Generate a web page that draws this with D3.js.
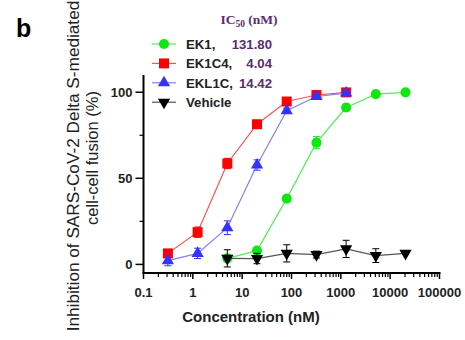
<!DOCTYPE html>
<html>
<head>
<meta charset="utf-8">
<script src="https://cdn.jsdelivr.net/npm/d3@7"></script>
<style>
  body { margin: 0; background: #fff; }
</style>
</head>
<body>
<div id='chart'></div>

<script>
  // concentrations (nM), 4-fold dilutions
  var conc = [0.3125, 1.25, 5, 20, 80, 320, 1280, 5120, 20480]

  var ek1 = [null, null, 3.5, 8.0, 38.2, 70.7, 91.1, 98.9, 99.9]
  var ek1Err = [null, null, 2, 1.5, 1.5, 3.5, 2, 1, 0.5]
  var ek1c4 = [6.4, 18.7, 58.6, 81.4, 94.6, 98.4, 99.9, null, null]
  var ek1c4Err = [2, 3, 3, 1.5, 1.5, 1, 1, null, null]
  var ekl1c = [2.2, 6.4, 21.3, 57.7, 89.2, 97.5, 99.5, null, null]
  var ekl1cErr = [3, 3, 4, 3, 1.5, 1, 1, null, null]
  var vehicle = [null, null, 3.5, 3.4, 6.4, 5.7, 9.0, 5.1, 6.4]
  var vehicleErr = [null, null, 5, 3, 5, 2, 5, 4, 0.5]

  var names = ['EK1,', 'EK1C4,', 'EKL1C,', 'Vehicle']
  var ic50 = ['131.80', '4.04', '14.42', '']
  var xTicks = [0.1, 1, 10, 100, 1000, 10000, 100000]
  var yTicks = [0, 50, 100]

  var sans = 'Arial, "Liberation Sans", sans-serif'
  var serif = '"Times New Roman", "Liberation Serif", serif'
  var purple = '#5a2d70'

  var series = [
    { name: names[0], ic: ic50[0], vals: ek1, err: ek1Err, color: '#11e611', line: '#55ee55', shape: 'circle' },
    { name: names[1], ic: ic50[1], vals: ek1c4, err: ek1c4Err, color: '#ff0000', line: '#ff5050', shape: 'square' },
    { name: names[2], ic: ic50[2], vals: ekl1c, err: ekl1cErr, color: '#3333ff', line: '#8080ff', shape: 'triangle' },
    { name: names[3], ic: ic50[3], vals: vehicle, err: vehicleErr, color: '#000000', line: '#555555', shape: 'down' }
  ]

  var svg = d3.select('#chart')
              .append('svg')
              .attr('width', 465)
              .attr('height', 340)
              .style('font-family', sans)

  var x = d3.scaleLog()
            .domain([0.1, 100000])
            .range([143.5, 439.5])

  var y = d3.scaleLinear()
            .domain([-5, 110])
            .range([273, 75])

  function symbolFor(shape) {
    if (shape == 'circle') return d3.symbol().type(d3.symbolCircle).size(80)
    if (shape == 'square') return d3.symbol().type(d3.symbolSquare).size(100)
    return d3.symbol().type(d3.symbolTriangle).size(65)
  }

  // axes
  var minor = []
  for (var e = -1; e < 5; e++) {
    for (var m = 2; m < 10; m++) minor.push(m * Math.pow(10, e))
  }

  var xAxis = svg.append('g').attr('transform', 'translate(0,' + y(-5) + ')')
  xAxis.append('line')
       .attr('x1', x(0.1) - 1).attr('x2', x(100000) + 1)
       .attr('stroke', '#000').attr('stroke-width', 2)
  xAxis.selectAll('.minor')
       .data(minor)
       .enter()
       .append('line')
       .attr('x1', function(d) { return x(d) })
       .attr('x2', function(d) { return x(d) })
       .attr('y1', 0).attr('y2', 4)
       .attr('stroke', '#000').attr('stroke-width', 1.2)
  xAxis.selectAll('.major')
       .data(xTicks)
       .enter()
       .append('line')
       .attr('x1', function(d) { return x(d) })
       .attr('x2', function(d) { return x(d) })
       .attr('y1', 0).attr('y2', 6)
       .attr('stroke', '#000').attr('stroke-width', 1.5)
  xAxis.selectAll('text')
       .data(xTicks)
       .enter()
       .append('text')
       .attr('x', function(d) { return x(d) })
       .attr('y', 24)
       .attr('text-anchor', 'middle')
       .attr('font-size', 13)
       .attr('font-weight', 'bold')
       .attr('fill', '#222')
       .text(function(d) { return d })

  var yAxis = svg.append('g').attr('transform', 'translate(' + x(0.1) + ',0)')
  yAxis.append('line')
       .attr('y1', y(-5)).attr('y2', y(110))
       .attr('stroke', '#000').attr('stroke-width', 2)
  yAxis.selectAll('.minor')
       .data([25, 75])
       .enter()
       .append('line')
       .attr('y1', function(d) { return y(d) })
       .attr('y2', function(d) { return y(d) })
       .attr('x1', 0).attr('x2', -4)
       .attr('stroke', '#000').attr('stroke-width', 1.2)
  yAxis.selectAll('.major')
       .data(yTicks)
       .enter()
       .append('line')
       .attr('y1', function(d) { return y(d) })
       .attr('y2', function(d) { return y(d) })
       .attr('x1', 0).attr('x2', -8)
       .attr('stroke', '#000').attr('stroke-width', 1.5)
  yAxis.selectAll('text')
       .data(yTicks)
       .enter()
       .append('text')
       .attr('x', -11)
       .attr('y', function(d) { return y(d) + 5 })
       .attr('text-anchor', 'end')
       .attr('font-size', 13)
       .attr('font-weight', 'bold')
       .attr('fill', '#222')
       .text(function(d) { return d })

  // axis titles
  svg.append('text')
     .attr('x', 251).attr('y', 322)
     .attr('text-anchor', 'middle')
     .attr('font-size', 15)
     .attr('font-weight', 'bold')
     .attr('fill', '#222')
     .text('Concentration (nM)')

  svg.append('text')
     .attr('transform', 'translate(79,166) rotate(-90)')
     .attr('text-anchor', 'middle')
     .attr('font-size', 17.2)
     .attr('fill', '#222')
     .text('Inhibition of SARS-CoV-2 Delta S-mediated')
  svg.append('text')
     .attr('transform', 'translate(98,158) rotate(-90)')
     .attr('text-anchor', 'middle')
     .attr('font-size', 16.5)
     .attr('fill', '#222')
     .text('cell-cell fusion (%)')

  svg.append('text')
     .attr('x', 16).attr('y', 37)
     .attr('font-size', 25)
     .attr('font-weight', 'bold')
     .text('b')

  // series
  series.forEach(function(s) {
    var pts = conc.map(function(c, i) {
      return { c: c, v: s.vals[i], e: s.err[i] }
    }).filter(function(d) { return d.v != null })

    var g = svg.append('g')

    g.append('path')
     .datum(pts)
     .attr('fill', 'none')
     .attr('stroke', s.line)
     .attr('stroke-width', 1.2)
     .attr('d', d3.line()
                  .x(function(d) { return x(d.c) })
                  .y(function(d) { return y(d.v) }))

    var eb = g.selectAll('.err')
              .data(pts)
              .enter()
              .append('g')
    eb.append('line')
      .attr('x1', function(d) { return x(d.c) })
      .attr('x2', function(d) { return x(d.c) })
      .attr('y1', function(d) { return y(d.v - d.e) })
      .attr('y2', function(d) { return y(d.v + d.e) })
      .attr('stroke', s.color).attr('stroke-width', 1)
    ;[-1, 1].forEach(function(sign) {
      eb.append('line')
        .attr('x1', function(d) { return x(d.c) - 3.5 })
        .attr('x2', function(d) { return x(d.c) + 3.5 })
        .attr('y1', function(d) { return y(d.v + sign * d.e) })
        .attr('y2', function(d) { return y(d.v + sign * d.e) })
        .attr('stroke', s.color).attr('stroke-width', 1)
    })

    g.selectAll('.pt')
     .data(pts)
     .enter()
     .append('path')
     .attr('d', symbolFor(s.shape))
     .attr('transform', function(d) {
       return 'translate(' + x(d.c) + ',' + y(d.v) + ')' + (s.shape == 'down' ? ' rotate(180)' : '')
     })
     .attr('fill', s.color)
  })

  // legend
  var legend = svg.append('g')
  var title = legend.append('text')
                    .attr('x', 249).attr('y', 24)
                    .attr('text-anchor', 'middle')
                    .style('font-family', serif)
                    .attr('font-size', 13.5)
                    .attr('font-weight', 'bold')
                    .attr('fill', purple)
  title.append('tspan').text('IC')
  title.append('tspan').attr('font-size', 9.5).attr('dy', 2.5).text('50')
  title.append('tspan').attr('dy', -2.5).text(' (nM)')

  var rows = legend.selectAll('.row')
                   .data(series)
                   .enter()
                   .append('g')
                   .attr('transform', function(d, i) { return 'translate(0,' + (44 + i * 19.4) + ')' })
  rows.append('line')
      .attr('x1', 152).attr('x2', 176)
      .attr('stroke', function(d) { return d.line })
      .attr('stroke-width', 1.2)
  rows.append('path')
      .attr('d', function(d) { return symbolFor(d.shape)() })
      .attr('transform', function(d) { return 'translate(164,0)' + (d.shape == 'down' ? ' rotate(180)' : '') })
      .attr('fill', function(d) { return d.color })
  rows.append('text')
      .attr('x', 186).attr('y', 5)
      .attr('font-size', 13.2)
      .attr('font-weight', 'bold')
      .attr('fill', '#222')
      .text(function(d) { return d.name })
  rows.append('text')
      .attr('x', 272)
      .attr('y', 5)
      .attr('text-anchor', 'end')
      .attr('font-size', 13.2)
      .attr('font-weight', 'bold')
      .attr('fill', purple)
      .text(function(d) { return d.ic })
</script>
</body>
</html>
